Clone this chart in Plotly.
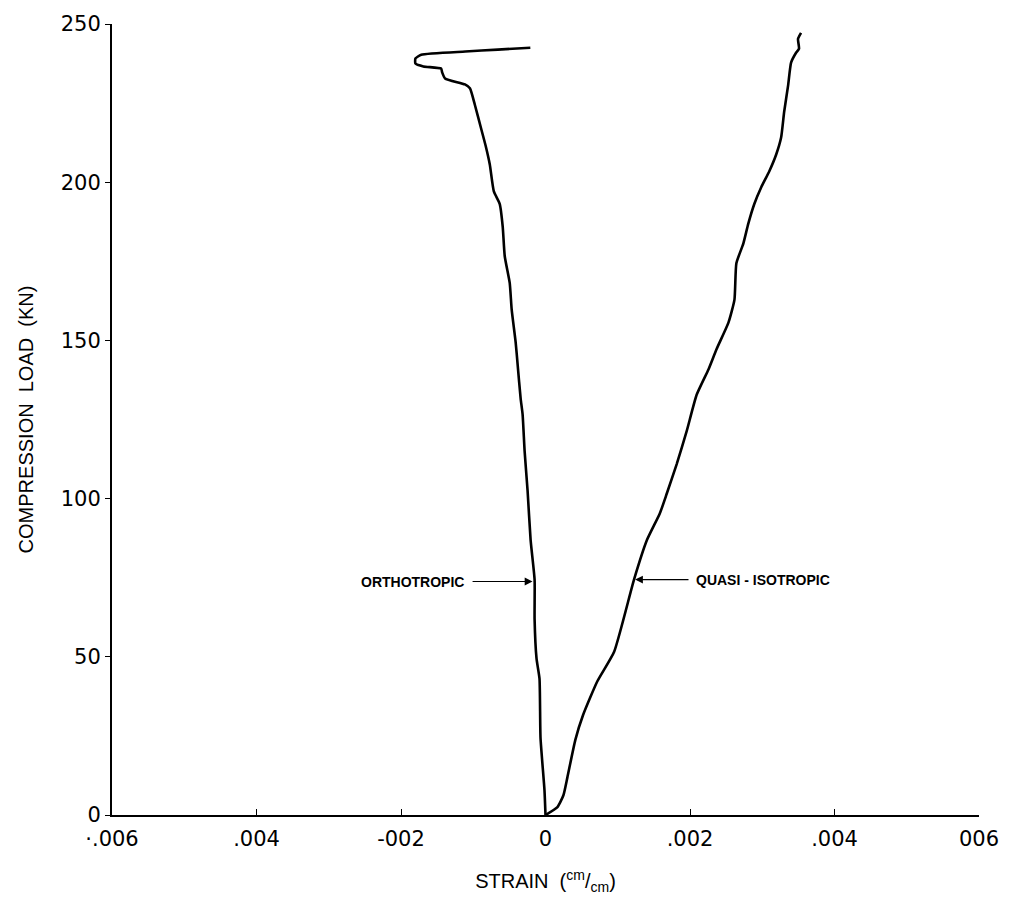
import plotly.graph_objects as go

# Strain values in units of 1e-3 cm/cm, load in kN
ortho_strain = [0, -0.014, -0.069, -0.083, -0.124, -0.151, -0.151, -0.206, -0.248, -0.289,
                -0.317, -0.344, -0.385, -0.413, -0.468, -0.495, -0.564, -0.592, -0.633, -0.716,
                -0.771, -0.826, -0.894, -0.977, -1.046, -1.115, -1.39, -1.43, -1.445, -1.69,
                -1.80, -1.80, -1.72, -1.11, -0.66, -0.21]
ortho_load = [0, 7.8, 24.4, 43.1, 49.4, 61.9, 74.4, 86.9, 102.5, 115,
              126.6, 131.6, 142.2, 149.4, 159.7, 168.1, 176.6, 185.9, 193.1, 197.2,
              205.6, 211.3, 217.2, 224.4, 229.7, 230.9, 232.8, 234.7, 235.9, 236.6,
              237.5, 239.1, 240.3, 241.3, 241.9, 242.5]

quasi_strain = [0, 0.165, 0.248, 0.303, 0.413, 0.52, 0.716, 0.95, 1.225, 1.404,
                1.582, 1.679, 1.816, 1.954, 2.092, 2.257, 2.367, 2.532, 2.615, 2.642,
                2.738, 2.807, 2.89, 2.986, 3.096, 3.193, 3.261, 3.303, 3.358, 3.399,
                3.468, 3.509, 3.495, 3.537]
quasi_load = [0, 2.5, 6.25, 11.9, 23.75, 31.6, 42.2, 51.6, 74.4, 86.9,
              95.3, 101.6, 110.9, 121.3, 132.8, 140.9, 147.2, 155.6, 162.8, 174.4,
              180.6, 186.9, 193.1, 198.4, 203.4, 208.75, 214.1, 222.2, 230.6, 237.8,
              240.9, 242.2, 245.3, 247.2]

x_tick_vals = [-0.006, -0.004, -0.002, 0, 0.002, 0.004, 0.006]
x_tick_text = ["·.006", ".004", "-002", "0", ".002", ".004", "006"]
y_tick_vals = [0, 50, 100, 150, 200, 250]
y_tick_text = ["0", "50", "100", "150", "200", "250"]

ortho_x = [v * 1e-3 for v in ortho_strain]
quasi_x = [v * 1e-3 for v in quasi_strain]

fig = go.Figure()
fig.add_trace(go.Scatter(x=ortho_x, y=ortho_load, mode="lines",
                         line=dict(color="black", width=2.6, shape="spline", smoothing=0.5),
                         showlegend=False))
fig.add_trace(go.Scatter(x=quasi_x, y=quasi_load, mode="lines",
                         line=dict(color="black", width=2.6, shape="spline", smoothing=0.5),
                         showlegend=False))

label_font = dict(family="Liberation Sans, Arial, sans-serif", size=14, color="black")

# ORTHOTROPIC arrow and text
fig.add_annotation(x=-0.00018, y=73.8, ax=-0.00103, ay=73.8, xref="x", yref="y",
                   axref="x", ayref="y", text="", showarrow=True, arrowhead=2,
                   arrowsize=1.3, arrowwidth=1.2, arrowcolor="black")
fig.add_annotation(x=-0.00110, y=73.8, xref="x", yref="y", text="<b>ORTHOTROPIC</b>",
                   showarrow=False, xanchor="right", yanchor="middle", font=label_font)
# QUASI-ISOTROPIC arrow and text
fig.add_annotation(x=0.00124, y=74.4, ax=0.00200, ay=74.4, xref="x", yref="y",
                   axref="x", ayref="y", text="", showarrow=True, arrowhead=2,
                   arrowsize=1.3, arrowwidth=1.2, arrowcolor="black")
fig.add_annotation(x=0.00206, y=74.4, xref="x", yref="y", text="<b>QUASI - ISOTROPIC</b>",
                   showarrow=False, xanchor="left", yanchor="middle", font=label_font)

tick_font = dict(family="DejaVu Sans, sans-serif", size=21, color="black")
title_font = dict(family="Liberation Sans Narrow, Liberation Sans, Arial, sans-serif",
                  size=20, color="black")

fig.update_layout(
    width=1011, height=901,
    margin=dict(l=112, r=27, t=19, b=80),
    plot_bgcolor="white", paper_bgcolor="white",
    xaxis=dict(range=[-0.006, 0.006], tickvals=x_tick_vals, ticktext=x_tick_text,
               showgrid=False, zeroline=False, showline=True, linecolor="black",
               linewidth=2, ticks="inside", ticklen=6, tickcolor="black",
               tickfont=tick_font, ticklabelstandoff=4,
               title=dict(text="STRAIN  (<sup>cm</sup>/<sub>cm</sub>)", font=title_font,
                          standoff=24)),
    yaxis=dict(range=[0, 250], tickvals=y_tick_vals, ticktext=y_tick_text,
               showgrid=False, zeroline=False, showline=True, linecolor="black",
               linewidth=2, ticks="outside", ticklen=5, tickcolor="black",
               tickfont=tick_font,
               title=dict(text="COMPRESSION  LOAD  (KN)", font=title_font, standoff=22)),
)

fig.write_html("out.html")
